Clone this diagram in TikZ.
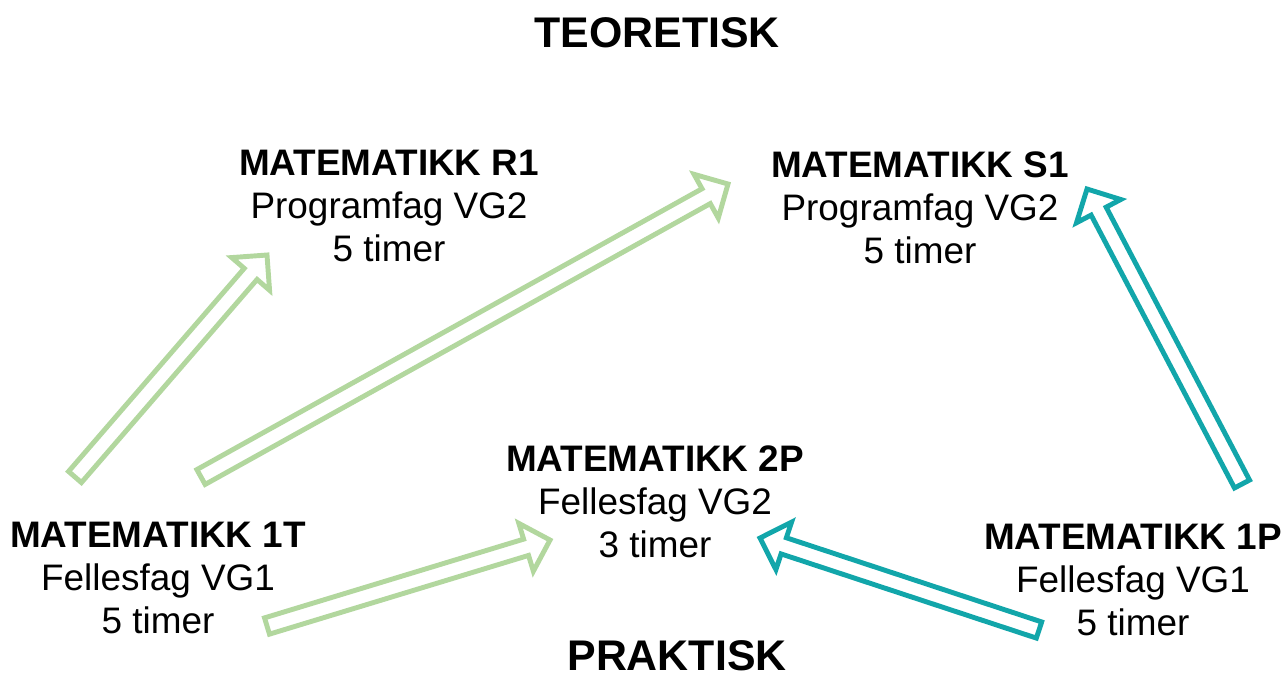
\documentclass[tikz,border=0pt]{standalone}
\usepackage{fontspec}
\setmainfont{Liberation Sans}
\usetikzlibrary{calc}
\definecolor{lightgreen}{RGB}{178,215,158}
\definecolor{teal}{RGB}{18,166,170}
\newcommand{\blockarrow}[3]{%
  \coordinate (hb) at ($(#3)!0.5cm!(#2)$);
  \draw[#1] ($(#2)!0.17cm!90:(#3)$) -- ($(hb)!0.17cm!-90:(#2)$) -- ($(hb)!0.5cm!-90:(#2)$)
    -- (#3) -- ($(hb)!0.5cm!90:(#2)$) -- ($(hb)!0.17cm!90:(#2)$) -- ($(#2)!0.17cm!-90:(#3)$) -- cycle;}
\begin{document}
\begin{tikzpicture}[x=0.02cm, y=-0.02cm,
    course/.style={align=center, font=\fontsize{21}{24.4}\selectfont, inner sep=0pt},
    heading/.style={font=\fontsize{24.4}{28}\selectfont\bfseries, inner sep=0pt},
    greenarrow/.style={draw=lightgreen, line width=2.8pt, line join=miter},
    tealarrow/.style={draw=teal, line width=2.8pt, line join=miter}]
    \useasboundingbox (0,0) rectangle (1288,681);

    \node[heading] (teo) at (657,33) {TEORETISK};
    \node[heading] (prak) at (677,656) {PRAKTISK};

    \node[course] (r1) at (389,206) {\textbf{MATEMATIKK R1}\\Programfag VG2\\5 timer};
    \node[course] (s1) at (920,208) {\textbf{MATEMATIKK S1}\\Programfag VG2\\5 timer};
    \node[course] (p2) at (655,502) {\textbf{MATEMATIKK 2P}\\Fellesfag VG2\\3 timer};
    \node[course] (t1) at (158,578) {\textbf{MATEMATIKK 1T}\\Fellesfag VG1\\5 timer};
    \node[course] (p1) at (1133,580) {\textbf{MATEMATIKK 1P}\\Fellesfag VG1\\5 timer};

    \coordinate (t1-r1) at (75,477);
    \coordinate (r1-in) at (267,255);
    \coordinate (t1-s1) at (201,477);
    \coordinate (s1-in) at (728,184);
    \coordinate (t1-p2) at (267,626);
    \coordinate (p2-inl) at (550,540);
    \coordinate (p1-s1) at (1242,484);
    \coordinate (s1-inr) at (1087,189);
    \coordinate (p1-p2) at (1039,630);
    \coordinate (p2-inr) at (760,538);

    \blockarrow{greenarrow}{t1-r1}{r1-in}
    \blockarrow{greenarrow}{t1-s1}{s1-in}
    \blockarrow{greenarrow}{t1-p2}{p2-inl}
    \blockarrow{tealarrow}{p1-s1}{s1-inr}
    \blockarrow{tealarrow}{p1-p2}{p2-inr}
\end{tikzpicture}
\end{document}
